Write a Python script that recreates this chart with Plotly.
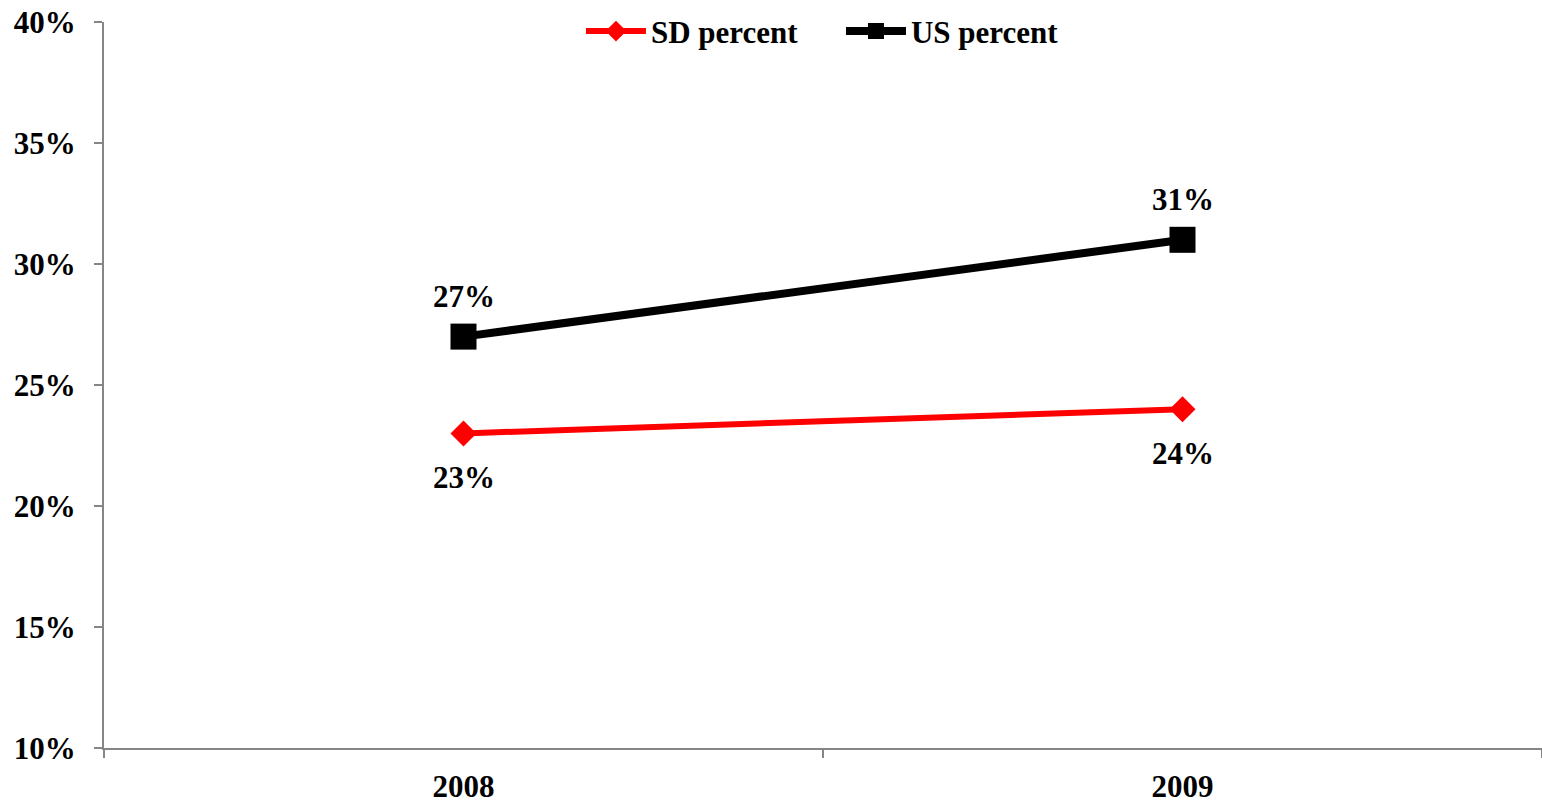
import plotly.graph_objects as go

years = ["2008", "2009"]
sd_percent = [23, 24]
us_percent = [27, 31]
y_ticks = [10, 15, 20, 25, 30, 35, 40]

FONT = "Liberation Serif, Times New Roman, serif"
AXIS_COLOR = "#868686"
FS = 31

fig = go.Figure()
fig.add_trace(go.Scatter(
    x=years, y=sd_percent, name="SD percent", mode="lines+markers",
    line=dict(color="#ff0000", width=6),
    marker=dict(symbol="diamond", size=20, color="#ff0000"),
))
fig.add_trace(go.Scatter(
    x=years, y=us_percent, name="US percent", mode="lines+markers",
    line=dict(color="#000000", width=8),
    marker=dict(symbol="square", size=26, color="#000000"),
))

label_font = dict(family=FONT, size=FS, color="black", weight="bold")
annotations = []
for i, v in enumerate(us_percent):
    annotations.append(dict(x=i, y=v, xref="x", yref="y", text=f"{v}%", showarrow=False,
                            yshift=40, xanchor="center", yanchor="middle", font=label_font))
for i, v in enumerate(sd_percent):
    annotations.append(dict(x=i, y=v, xref="x", yref="y", text=f"{v}%", showarrow=False,
                            yshift=-44, xanchor="center", yanchor="middle", font=label_font))

fig.update_layout(
    width=1542, height=804,
    margin=dict(l=104, r=0, t=22, b=54),
    paper_bgcolor="white", plot_bgcolor="white",
    font=dict(family=FONT, size=FS, color="black", weight="bold"),
    showlegend=True,
    legend=dict(orientation="h", x=0.5125, xanchor="center", y=0.987, yanchor="middle",
                bgcolor="rgba(0,0,0,0)", font=label_font, itemwidth=60,
                entrywidth=185, entrywidthmode="pixels", tracegroupgap=0),
    annotations=annotations,
    xaxis=dict(type="category", range=[-0.5, 1.5], tickson="boundaries",
               ticks="outside", ticklen=8, tickwidth=2, tickcolor=AXIS_COLOR,
               showline=True, linecolor=AXIS_COLOR, linewidth=2,
               showgrid=False, zeroline=False, ticklabelstandoff=10,
               tickfont=label_font),
    yaxis=dict(range=[10, 40], tickvals=y_ticks, ticktext=[f"{t}%" for t in y_ticks],
               ticks="outside", ticklen=8, tickwidth=2, tickcolor=AXIS_COLOR,
               showline=True, linecolor=AXIS_COLOR, linewidth=2,
               showgrid=False, zeroline=False, ticklabelstandoff=12,
               tickfont=label_font),
)

fig.write_html("out.html", config={"displayModeBar": False},
               post_script="document.body.style.margin='0';document.body.style.overflow='hidden';")
